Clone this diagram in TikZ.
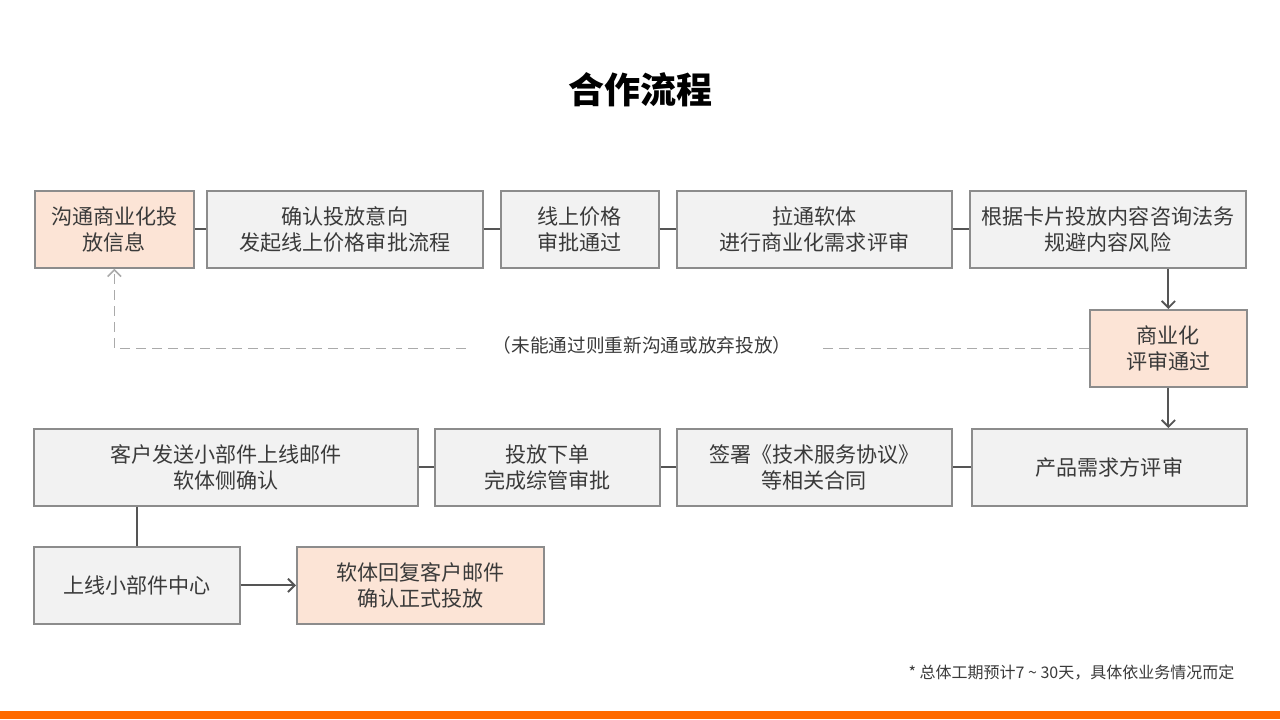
\documentclass[tikz,border=0pt]{standalone}
\usepackage{fontspec}
\setmainfont{Noto Sans CJK SC}
\usetikzlibrary{arrows.meta, positioning}
\definecolor{boxgray}{HTML}{F2F2F2}
\definecolor{boxpeach}{HTML}{FCE4D6}
\definecolor{edgegray}{HTML}{8C8C8C}
\definecolor{linegray}{HTML}{555555}
\definecolor{textgray}{HTML}{3A3A3A}
\definecolor{dashgray}{HTML}{AAAAAA}
\definecolor{barorange}{HTML}{FF6A00}

\begin{document}
\begin{tikzpicture}[
    x=0.75pt, y=-0.75pt,
    font=\fontsize{15.8}{19.5}\selectfont, text=textgray,
    stepbox/.style={
        rectangle, draw=edgegray, line width=1.3pt, fill=boxgray,
        minimum width=#1*0.75pt, minimum height=77*0.75pt,
        inner sep=0pt, align=center, anchor=north west
    },
    keybox/.style={stepbox=#1, fill=boxpeach},
    link/.style={draw=linegray, line width=1.4pt},
    arrow/.style={link, -{Straight Barb[length=5pt, width=10pt]}},
    back/.style={draw=dashgray, line width=1.2pt, dash pattern=on 7.5pt off 4.5pt}
]
\useasboundingbox (0,0) rectangle (1280,719);

% Title
\node[font=\fontsize{27}{32}\selectfont\bfseries, text=black] (title) at (640,90) {合作流程};

% First row
\node[keybox=159]  (talk)    at (34,190)  {沟通商业化投\\放信息};
\node[stepbox=276] (confirm) at (206,190) {确认投放意向\\发起线上价格审批流程};
\node[stepbox=158] (price)   at (500,190) {线上价格\\审批通过};
\node[stepbox=275] (review)  at (676,190) {拉通软体\\进行商业化需求评审};
\node[stepbox=276] (legal)   at (969,190) {根据卡片投放内容咨询法务\\规避内容风险};

% Review passed
\node[keybox=157]  (pass)    at (1089,309) {商业化\\评审通过};

% Second row, right to left
\node[stepbox=275] (demand)   at (971,428) {产品需求方评审};
\node[stepbox=275] (contract) at (676,428) {签署《技术服务协议》\\等相关合同};
\node[stepbox=225] (order)    at (434,428) {投放下单\\完成综管审批};
\node[stepbox=384] (mail)     at (33,428)  {客户发送小部件上线邮件\\软体侧确认};

% Last row
\node[stepbox=206] (center) at (33,546)  {上线小部件中心};
\node[keybox=247]  (reply)  at (296,546) {软体回复客户邮件\\确认正式投放};

% Connectors
\draw[link] (talk)    -- (confirm);
\draw[link] (confirm) -- (price);
\draw[link] (price)   -- (review);
\draw[link] (review)  -- (legal);
\draw[arrow] (pass.north |- legal.south) -- (pass.north);
\draw[arrow] (pass.south) -- (pass.south |- demand.north);
\draw[link] (demand)   -- (contract);
\draw[link] (contract) -- (order);
\draw[link] (order)    -- (mail);
\draw[link] (mail.south -| center) -- (center.north);
\draw[arrow] (center) -- (reply);

% Dashed way back
\node[font=\fontsize{14}{17}\selectfont, inner xsep=20pt] (note) at (642,345) {（未能通过则重新沟通或放弃投放）};
\draw[back] (pass.west) -- (note.east |- pass.west);
\draw[back, -{Straight Barb[length=5pt, width=10pt]}] (note.west |- pass.west) -| (talk.south);

% Footnote and bottom bar
\node[font=\fontsize{12}{14}\selectfont, anchor=east] (foot) at (1239,673) {* 总体工期预计7 \textasciitilde{} 30天，具体依业务情况而定};
\fill[barorange] (0,711) rectangle (1280,719);

\end{tikzpicture}
\end{document}
